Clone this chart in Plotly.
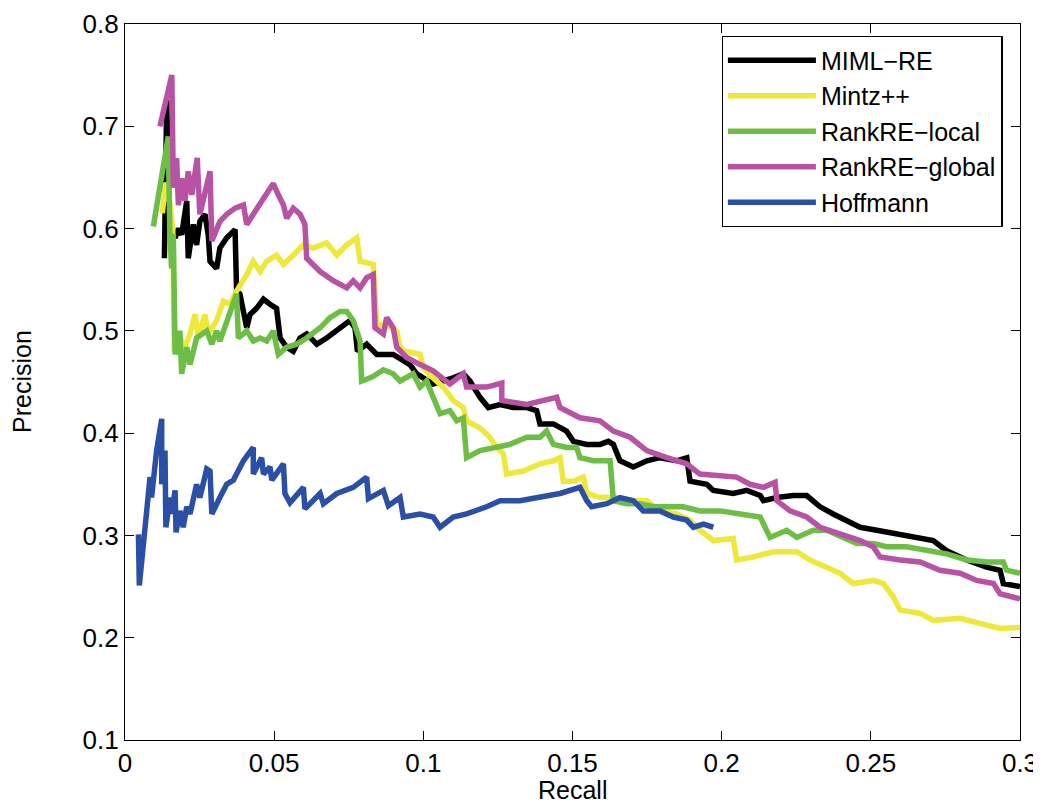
import plotly.graph_objects as go

# ---------------- data (recall, precision) ----------------
miml_x = [0.0132, 0.0140, 0.0149, 0.0168, 0.0179, 0.0190, 0.0207, 0.0212, 0.0229, 0.0240,
          0.0251, 0.0268, 0.0279, 0.0285, 0.0307, 0.0318, 0.0341, 0.0369, 0.0374, 0.0385,
          0.0408, 0.0419, 0.0441, 0.0464, 0.0486, 0.0508, 0.0520, 0.0542, 0.0564, 0.0587,
          0.0609, 0.0643, 0.0676, 0.0721, 0.0754, 0.0771, 0.0779, 0.0810, 0.0844, 0.0899,
          0.0955, 0.0978, 0.1033, 0.1100, 0.1134, 0.1156, 0.1190, 0.1218, 0.1257, 0.1302,
          0.1347, 0.1380, 0.1391, 0.1436, 0.1480, 0.1503, 0.1548, 0.1592, 0.1620, 0.1637,
          0.1659, 0.1704, 0.1749, 0.1793, 0.1849, 0.1883, 0.1894, 0.1950, 0.1972, 0.2039,
          0.2084, 0.2129, 0.2140, 0.2185, 0.2240, 0.2285, 0.2330, 0.2374, 0.2419, 0.2464,
          0.2520, 0.2575, 0.2642, 0.2709, 0.2754, 0.2821, 0.2888, 0.2933, 0.2944, 0.3000]
miml_y = [0.571, 0.726, 0.600, 0.591, 0.600, 0.594, 0.627, 0.571, 0.604, 0.584,
          0.607, 0.614, 0.594, 0.568, 0.561, 0.581, 0.591, 0.599, 0.539, 0.536,
          0.503, 0.516, 0.522, 0.531, 0.526, 0.522, 0.493, 0.484, 0.480, 0.493,
          0.497, 0.487, 0.493, 0.503, 0.510, 0.503, 0.480, 0.487, 0.477, 0.477,
          0.467, 0.458, 0.448, 0.454, 0.458, 0.451, 0.435, 0.425, 0.428, 0.425,
          0.425, 0.422, 0.409, 0.409, 0.402, 0.392, 0.389, 0.389, 0.392, 0.389,
          0.373, 0.367, 0.373, 0.376, 0.373, 0.376, 0.353, 0.350, 0.344, 0.341,
          0.344, 0.339, 0.334, 0.337, 0.339, 0.339, 0.328, 0.321, 0.315, 0.308,
          0.305, 0.302, 0.298, 0.295, 0.285, 0.276, 0.269, 0.266, 0.253, 0.250]

mintz_x = [0.0125, 0.0137, 0.0150, 0.0160, 0.0165, 0.0190, 0.0201, 0.0218, 0.0235, 0.0246,
           0.0268, 0.0279, 0.0307, 0.0330, 0.0352, 0.0374, 0.0408, 0.0430, 0.0453, 0.0475,
           0.0508, 0.0531, 0.0564, 0.0598, 0.0631, 0.0676, 0.0710, 0.0743, 0.0777, 0.0788,
           0.0832, 0.0844, 0.0877, 0.0911, 0.0922, 0.0939, 0.0989, 0.1000, 0.1033, 0.1067,
           0.1100, 0.1134, 0.1145, 0.1190, 0.1223, 0.1246, 0.1268, 0.1279, 0.1335, 0.1391,
           0.1436, 0.1458, 0.1469, 0.1503, 0.1536, 0.1548, 0.1592, 0.1648, 0.1704, 0.1749,
           0.1793, 0.1849, 0.1894, 0.1927, 0.1972, 0.2039, 0.2050, 0.2106, 0.2173, 0.2252,
           0.2296, 0.2352, 0.2397, 0.2441, 0.2508, 0.2542, 0.2575, 0.2598, 0.2665, 0.2709,
           0.2799, 0.2866, 0.2933, 0.3000]
mintz_y = [0.615, 0.645, 0.625, 0.600, 0.480, 0.490, 0.484, 0.497, 0.516, 0.493,
           0.516, 0.497, 0.510, 0.529, 0.526, 0.539, 0.555, 0.568, 0.558, 0.568,
           0.574, 0.565, 0.574, 0.584, 0.581, 0.586, 0.574, 0.584, 0.591, 0.568,
           0.565, 0.506, 0.506, 0.500, 0.484, 0.480, 0.477, 0.464, 0.454, 0.445,
           0.432, 0.425, 0.412, 0.405, 0.396, 0.386, 0.380, 0.360, 0.363, 0.370,
           0.373, 0.376, 0.353, 0.353, 0.357, 0.341, 0.337, 0.337, 0.334, 0.334,
           0.324, 0.321, 0.315, 0.305, 0.295, 0.297, 0.276, 0.279, 0.284, 0.284,
           0.276, 0.269, 0.263, 0.253, 0.256, 0.253, 0.240, 0.227, 0.224, 0.217,
           0.219, 0.214, 0.209, 0.210]

local_x = [0.0095, 0.0145, 0.0150, 0.0156, 0.0162, 0.0168, 0.0184, 0.0190, 0.0207, 0.0218,
           0.0240, 0.0274, 0.0291, 0.0307, 0.0318, 0.0341, 0.0374, 0.0380, 0.0408, 0.0430,
           0.0453, 0.0475, 0.0497, 0.0514, 0.0542, 0.0576, 0.0609, 0.0654, 0.0687, 0.0721,
           0.0743, 0.0765, 0.0788, 0.0793, 0.0830, 0.0866, 0.0899, 0.0922, 0.0966, 0.0989,
           0.1011, 0.1033, 0.1056, 0.1089, 0.1112, 0.1134, 0.1145, 0.1190, 0.1235, 0.1290,
           0.1347, 0.1391, 0.1413, 0.1436, 0.1480, 0.1514, 0.1525, 0.1570, 0.1626, 0.1637,
           0.1682, 0.1726, 0.1771, 0.1816, 0.1871, 0.1927, 0.1995, 0.2062, 0.2129, 0.2162,
           0.2218, 0.2252, 0.2307, 0.2352, 0.2408, 0.2453, 0.2508, 0.2553, 0.2620, 0.2687,
           0.2754, 0.2821, 0.2888, 0.2944, 0.2955, 0.3000]
local_y = [0.602, 0.690, 0.600, 0.561, 0.595, 0.477, 0.500, 0.458, 0.484, 0.467,
           0.493, 0.500, 0.487, 0.500, 0.490, 0.510, 0.536, 0.493, 0.500, 0.490,
           0.493, 0.490, 0.500, 0.477, 0.484, 0.487, 0.493, 0.503, 0.513, 0.519,
           0.519, 0.510, 0.490, 0.451, 0.455, 0.462, 0.458, 0.451, 0.458, 0.445,
           0.451, 0.435, 0.419, 0.422, 0.412, 0.415, 0.376, 0.383, 0.386, 0.389,
           0.396, 0.396, 0.402, 0.389, 0.386, 0.386, 0.376, 0.373, 0.373, 0.334,
           0.331, 0.331, 0.328, 0.328, 0.328, 0.324, 0.324, 0.321, 0.318, 0.298,
           0.305, 0.298, 0.305, 0.305, 0.298, 0.292, 0.292, 0.289, 0.289, 0.285,
           0.282, 0.276, 0.274, 0.274, 0.266, 0.263]

global_x = [0.0117, 0.0157, 0.0162, 0.0173, 0.0179, 0.0190, 0.0201, 0.0212, 0.0224, 0.0242,
            0.0251, 0.0285, 0.0291, 0.0318, 0.0341, 0.0369, 0.0397, 0.0408, 0.0430, 0.0464,
            0.0497, 0.0514, 0.0531, 0.0542, 0.0564, 0.0587, 0.0603, 0.0609, 0.0631, 0.0654,
            0.0698, 0.0743, 0.0765, 0.0788, 0.0810, 0.0832, 0.0838, 0.0866, 0.0877, 0.0899,
            0.0911, 0.0944, 0.0989, 0.1033, 0.1089, 0.1134, 0.1145, 0.1212, 0.1263, 0.1263,
            0.1347, 0.1447, 0.1458, 0.1525, 0.1592, 0.1637, 0.1693, 0.1749, 0.1816, 0.1883,
            0.1927, 0.1995, 0.2050, 0.2095, 0.2140, 0.2179, 0.2185, 0.2229, 0.2285, 0.2330,
            0.2397, 0.2464, 0.2508, 0.2531, 0.2598, 0.2665, 0.2732, 0.2799, 0.2855, 0.2911,
            0.2933, 0.3000]
global_y = [0.700, 0.750, 0.640, 0.669, 0.623, 0.649, 0.627, 0.656, 0.633, 0.669,
            0.614, 0.656, 0.588, 0.607, 0.614, 0.620, 0.623, 0.604, 0.614, 0.630,
            0.644, 0.633, 0.623, 0.610, 0.620, 0.614, 0.604, 0.571, 0.565, 0.558,
            0.549, 0.542, 0.549, 0.542, 0.552, 0.555, 0.503, 0.497, 0.513, 0.503,
            0.484, 0.474, 0.467, 0.461, 0.448, 0.458, 0.445, 0.445, 0.449, 0.432,
            0.428, 0.435, 0.425, 0.415, 0.412, 0.402, 0.396, 0.383, 0.376, 0.370,
            0.360, 0.358, 0.357, 0.350, 0.347, 0.352, 0.334, 0.324, 0.318, 0.308,
            0.302, 0.295, 0.289, 0.279, 0.276, 0.274, 0.266, 0.263, 0.256, 0.253,
            0.243, 0.238]

hoff_x = [0.0045, 0.0048, 0.0084, 0.0089, 0.0106, 0.0123, 0.0123, 0.0134, 0.0137, 0.0151,
          0.0156, 0.0168, 0.0171, 0.0184, 0.0195, 0.0207, 0.0218, 0.0240, 0.0251, 0.0274,
          0.0285, 0.0291, 0.0318, 0.0341, 0.0363, 0.0397, 0.0430, 0.0430, 0.0458, 0.0464,
          0.0486, 0.0492, 0.0531, 0.0536, 0.0553, 0.0598, 0.0603, 0.0654, 0.0665, 0.0710,
          0.0765, 0.0810, 0.0816, 0.0866, 0.0883, 0.0922, 0.0933, 0.0989, 0.1033, 0.1056,
          0.1100, 0.1145, 0.1212, 0.1257, 0.1324, 0.1391, 0.1458, 0.1525, 0.1548, 0.1564,
          0.1615, 0.1659, 0.1704, 0.1737, 0.1793, 0.1838, 0.1883, 0.1905, 0.1939, 0.1972]
hoff_y = [0.301, 0.251, 0.357, 0.337, 0.383, 0.414, 0.350, 0.383, 0.308, 0.337,
          0.321, 0.344, 0.303, 0.324, 0.308, 0.328, 0.321, 0.350, 0.337, 0.365,
          0.363, 0.321, 0.337, 0.350, 0.354, 0.373, 0.386, 0.360, 0.376, 0.360,
          0.367, 0.354, 0.370, 0.341, 0.332, 0.347, 0.326, 0.341, 0.331, 0.341,
          0.347, 0.357, 0.336, 0.344, 0.329, 0.337, 0.318, 0.321, 0.318, 0.308,
          0.318, 0.321, 0.328, 0.334, 0.334, 0.337, 0.341, 0.347, 0.334, 0.328,
          0.331, 0.337, 0.334, 0.324, 0.324, 0.318, 0.315, 0.308, 0.311, 0.308]

series_names = ["MIML\u2212RE", "Mintz++", "RankRE\u2212local", "RankRE\u2212global", "Hoffmann"]
series_colors = ["#000000", "#EEE83A", "#6CBE45", "#B852A4", "#2B4FA7"]

x_ticks = [0, 0.05, 0.1, 0.15, 0.2, 0.25, 0.3]
x_tick_text = ["0", "0.05", "0.1", "0.15", "0.2", "0.25", "0.3"]
y_ticks = [0.1, 0.2, 0.3, 0.4, 0.5, 0.6, 0.7, 0.8]
y_tick_text = ["0.1", "0.2", "0.3", "0.4", "0.5", "0.6", "0.7", "0.8"]
x_title = "Recall"
y_title = "Precision"

# ---------------- figure ----------------
xs = [miml_x, mintz_x, local_x, global_x, hoff_x]
ys = [miml_y, mintz_y, local_y, global_y, hoff_y]

fig = go.Figure()
for i, (name, color, xv, yv) in enumerate(zip(series_names, series_colors, xs, ys)):
    fig.add_trace(go.Scatter(x=xv, y=yv, mode="lines", name=name,
                             legendgroup="g%d" % i,
                             line=dict(color=color, width=5.5)))

FONT = "Liberation Sans, Arial, Helvetica, sans-serif"
axis_common = dict(showgrid=False, zeroline=False, showline=True, linecolor="black",
                   linewidth=1.3, mirror="allticks", ticks="inside", ticklen=9,
                   tickcolor="black", tickwidth=1.3, automargin=False,
                   ticklabeloverflow="allow",
                   tickfont=dict(family=FONT, size=26, color="black"))

# page body has an 8px default margin, so the figure is sized to fill the window
fig.update_layout(
    width=1033, height=796,
    margin=dict(l=117, r=21, t=16, b=64),
    paper_bgcolor="white", plot_bgcolor="white",
    font=dict(family=FONT, color="black"),
    xaxis=dict(range=[0, 0.3], tickvals=x_ticks, ticktext=x_tick_text, **axis_common),
    yaxis=dict(range=[0.1, 0.8], tickvals=y_ticks, ticktext=y_tick_text, **axis_common),
    legend=dict(x=0.6666, y=0.983, xanchor="left", yanchor="top",
                bgcolor="white", bordercolor="black", borderwidth=1.3,
                font=dict(family=FONT, size=25, color="black"),
                itemwidth=88, tracegroupgap=6, traceorder="normal"),
    annotations=[
        dict(text=x_title, xref="paper", yref="paper", x=0.5, y=0, xanchor="center",
             yanchor="middle", yshift=-50, showarrow=False,
             font=dict(family=FONT, size=25, color="black")),
        dict(text=y_title, xref="paper", yref="paper", x=0, y=0.5, xanchor="center",
             yanchor="middle", xshift=-103, textangle=-90, showarrow=False,
             font=dict(family=FONT, size=25, color="black")),
    ],
)

fig.write_html("out.html")
